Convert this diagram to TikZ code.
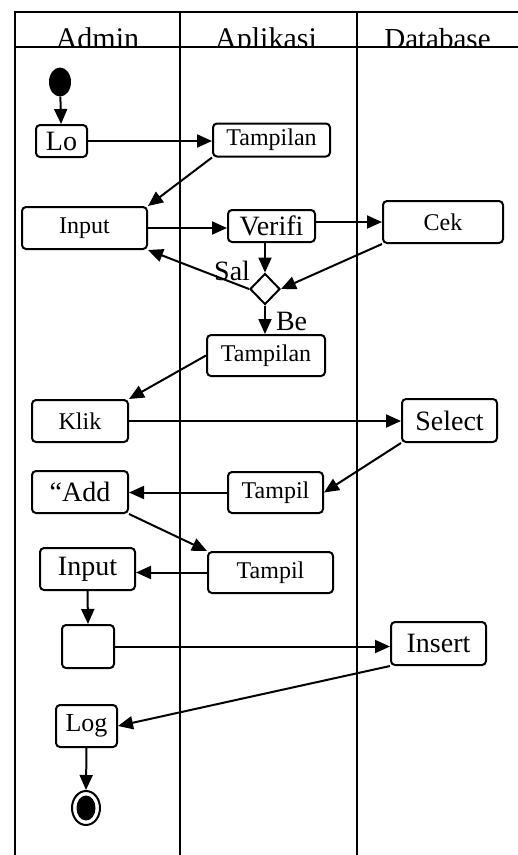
\documentclass[tikz,border=0pt]{standalone}
\usepackage{fontspec}
\setmainfont{Liberation Serif}
\usetikzlibrary{arrows.meta,shapes.geometric}

\begin{document}
\begin{tikzpicture}[x=1pt,y=-1pt,
  act/.style={draw,line width=2pt,rounded corners=4pt,inner sep=0pt,
    font=\fontsize{24}{26}\selectfont},
  actbig/.style={act,font=\fontsize{28}{30}\selectfont},
  arr/.style={line width=2pt,-{Triangle[length=15pt,width=13pt]}},
  lane/.style={line width=2pt},
  lbl/.style={inner sep=0pt,font=\fontsize{28}{30}\selectfont}]

\useasboundingbox (0,0) rectangle (518,855);

% заголовки дорожек
\begin{scope}
  \clip (15,12) rectangle (518,47);
  \node[anchor=base,font=\fontsize{30}{32}\selectfont] (hadmin) at (97.5,48) {Admin};
  \node[anchor=base,font=\fontsize{30}{32}\selectfont] (happ) at (266,48) {Aplikasi};
  \node[anchor=base,font=\fontsize{29}{31}\selectfont] (hdb) at (437.5,48) {Database};
\end{scope}

% дорожки
\draw[lane] (15,855) -- (15,12) -- (518,12);
\draw[lane] (15,47) -- (518,47);
\draw[lane] (180,12) -- (180,855);
\draw[lane] (357,12) -- (357,855);

% узлы
\node[ellipse,fill,minimum width=22pt,minimum height=29pt,inner sep=0pt] (start) at (60,82) {};
\node[actbig,minimum width=51pt,minimum height=32pt] (login) at (61.5,141) {Lo};
\node[act,minimum width=117pt,minimum height=33pt] (tampil1) at (271.5,140) {Tampilan};
\node[act,minimum width=125pt,minimum height=42pt] (inputuser) at (84.5,228) {Input};
\node[actbig,minimum width=87pt,minimum height=32pt] (verif) at (271.5,226) {Verifi};
\node[act,minimum width=120pt,minimum height=42pt] (cekdb) at (443,222) {Cek};
\node[diamond,draw,line width=2pt,minimum width=30pt,minimum height=31pt,inner sep=0pt] (dec) at (265,289) {};
\node[act,minimum width=118pt,minimum height=41pt] (tampil2) at (266,355.5) {Tampilan};
\node[act,minimum width=96pt,minimum height=42pt] (klik) at (80,421) {Klik};
\node[actbig,minimum width=95pt,minimum height=43pt] (select) at (449.5,420.5) {Select};
\node[act,minimum width=95pt,minimum height=41pt] (tampilinfo) at (275.5,492.5) {Tampil};
\node[actbig,minimum width=96pt,minimum height=42pt] (add) at (80,492) {“Add};
\node[act,minimum width=125pt,minimum height=41pt] (tampilins) at (270.5,572.5) {Tampil};
\node[actbig,minimum width=95pt,minimum height=42pt] (inputdata) at (87.5,569) {Input};
\node[act,minimum width=52pt,minimum height=43pt] (simpan) at (88,646.5) {};
\node[act,minimum width=61pt,minimum height=42pt,font=\fontsize{26}{28}\selectfont] (logout) at (86.5,726) {Log};
\node[actbig,minimum width=95pt,minimum height=43pt] (insert) at (438.5,643.5) {Insert};
\node[ellipse,draw,line width=2pt,minimum width=28pt,minimum height=34pt,inner sep=0pt] (end) at (86,808) {};
\node[ellipse,fill,minimum width=19pt,minimum height=25pt,inner sep=0pt] (endin) at (end) {};

% стрелки
\draw[arr] (start) -- (login);
\draw[arr] (login) -- (login -| tampil1.west);
\draw[arr] (tampil1.south west) -- (inputuser.north east);
\draw[arr] (inputuser.east) -- (inputuser.east -| verif.west);
\draw[arr] (verif.east |- cekdb.west) -- (cekdb.west);
\draw[arr] (dec.north |- verif.south) -- (dec.north);
\draw[arr] (cekdb.south west) -- (dec.east);
\draw[arr] (dec.west) -- (inputuser.south east)
  node[lbl,pos=0,anchor=south east,xshift=2pt,yshift=7pt] {Sal};
\draw[arr] (dec.south) -- (dec.south |- tampil2.north)
  node[lbl,pos=0,anchor=north west,xshift=10pt,yshift=-6pt] {Be};
\draw[arr] (tampil2.west) -- (klik.north east);
\draw[arr] (klik.east) -- (klik.east -| select.west);
\draw[arr] (select.south west) -- (tampilinfo.east);
\draw[arr] (tampilinfo.west) -- (tampilinfo.west -| add.east);
\draw[arr] (add.south east) -- (tampilins.north west);
\draw[arr] (tampilins.west) -- (tampilins.west -| inputdata.east);
\draw[arr] (inputdata.south) -- (simpan.north);
\draw[arr] (simpan.east) -- (simpan.east -| insert.west);
\draw[arr] (insert.south west) -- (logout.east);
\draw[arr] (logout.south) -- (end.north);

\end{tikzpicture}
\end{document}
